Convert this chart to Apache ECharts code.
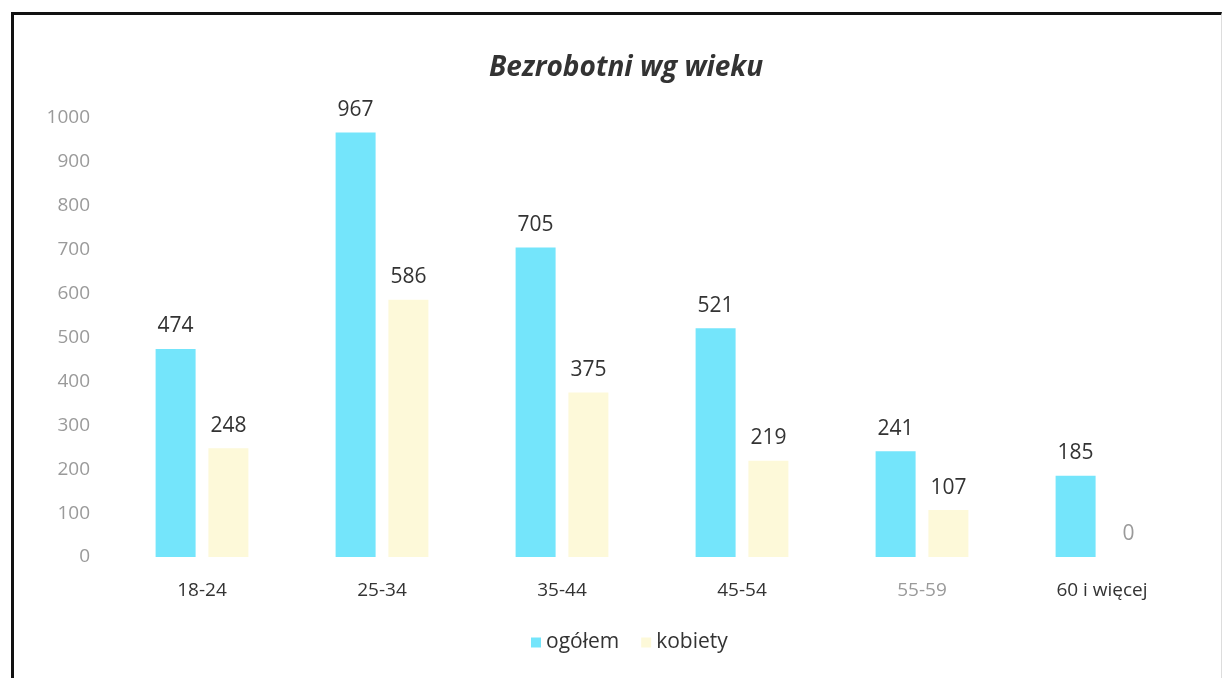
<!DOCTYPE html>
<html>
<head>
<meta charset="utf-8">
<script src="https://cdn.jsdelivr.net/npm/echarts@6/dist/echarts.min.js"></script>
<style>
  html, body { margin: 0; padding: 0; background: #fff; }
  #frame {
    position: absolute; left: 11px; top: 12px; width: 1207px; height: 680px;
    border-top: 3px solid #111; border-left: 3px solid #111; border-right: 1px solid #ddd;
  }
  #chart { position: absolute; left: 0; top: 0; width: 1222px; height: 678px; }
</style>
</head>
<body>
<div id="frame"></div>
<div id="chart"></div>
<script>
const categories = ['18-24', '25-34', '35-44', '45-54', '55-59', '60 i więcej']
const ogolem = [474, 967, 705, 521, 241, 185]
const kobiety = [248, 586, 375, 219, 107, 0]
const yTicks = [0, 1000, 100]

const font = "'Open Sans', 'Noto Sans', sans-serif"
const chart = echarts.init(document.getElementById('chart'))

function labelled(values) {
  return values.map(v => v === 0
    ? { value: v, label: { color: '#9a9a9a' } }
    : v)
}

chart.setOption({
  animation: false,
  title: {
    text: 'Bezrobotni wg wieku',
    left: 484,
    top: 49,
    textStyle: { fontFamily: font, fontSize: 28, fontWeight: 'bold', fontStyle: 'italic', color: '#333' }
  },
  grid: { left: 112, right: 30, top: 118, bottom: 121 },
  legend: {
    bottom: 20,
    left: 526,
    itemWidth: 10,
    itemHeight: 10,
    itemGap: 22,
    icon: 'rect',
    textStyle: { fontFamily: font, fontSize: 21, color: '#333' },
    data: ['ogółem', 'kobiety']
  },
  xAxis: {
    type: 'category',
    data: categories,
    axisLine: { show: false },
    axisTick: { show: false },
    axisLabel: {
      margin: 24,
      fontFamily: font,
      fontSize: 19,
      color: (val) => val === '55-59' ? '#9a9a9a' : '#333'
    }
  },
  yAxis: {
    type: 'value',
    min: yTicks[0],
    max: yTicks[1],
    interval: yTicks[2],
    splitLine: { show: false },
    axisLabel: {
      margin: 22, fontFamily: font, fontSize: 19, color: '#9a9a9a',
      formatter: (v) => String(v)
    }
  },
  series: [
    {
      name: 'ogółem',
      type: 'bar',
      barWidth: 40,
      barGap: '32%',
      itemStyle: { color: '#74e5fb' },
      label: { show: true, position: 'top', distance: 12, fontFamily: font, fontSize: 21, color: '#333' },
      data: labelled(ogolem)
    },
    {
      name: 'kobiety',
      type: 'bar',
      barWidth: 40,
      itemStyle: { color: '#fdf9d9' },
      label: { show: true, position: 'top', distance: 12, fontFamily: font, fontSize: 21, color: '#333' },
      data: labelled(kobiety)
    }
  ]
})
</script>
</body>
</html>
